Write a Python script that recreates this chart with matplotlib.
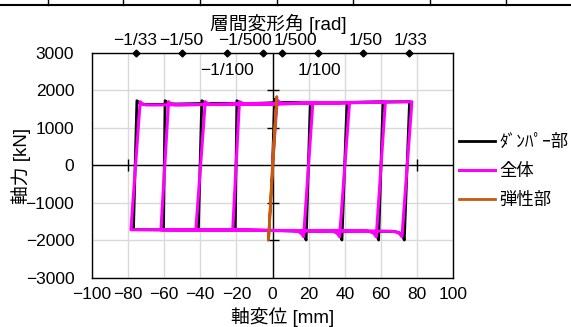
import numpy as np
import matplotlib
matplotlib.use("Agg")
import matplotlib.pyplot as plt
from matplotlib.lines import Line2D

plt.rcParams['font.family'] = ['Liberation Sans', 'Noto Sans CJK JP', 'DejaVu Sans']
plt.rcParams['font.size'] = 12.5

# damper part (black): axial displacement [mm], axial force [kN]
damper_x = [0, 1.2, 2.5, 5, 20.9,
            18.6, 17.6, 15.8, 13, -20.6,
            -19.7, -18.6, -16.5, -13, 41.2,
            38.4, 37.4, 35.6, 33, -41,
            -39.1, -38, -36, -33, 61.1,
            58.7, 57.7, 55.9, 53, -60.3,
            -59.4, -58.3, -56.3, -53, 75.8,
            72.9, 71.9, 70, 67, -76.9,
            -75, -73.9, -72, -69, 0]
damper_f = [0, 1760, 1680, 1655, 1665,
            -1995, -1870, -1790, -1750, -1725,
            1720, 1680, 1650, 1645, 1672,
            -1995, -1870, -1790, -1755, -1722,
            1720, 1680, 1645, 1638, 1682,
            -1995, -1870, -1795, -1760, -1720,
            1720, 1675, 1635, 1628, 1694,
            -1995, -1880, -1800, -1765, -1718,
            1720, 1670, 1625, 1618, 1650]

# whole (magenta)
total_x = [0, 2.6, 3.9, 6.4, 22.3,
           17.2, 16.2, 14.4, 11.6, -22,
           -18.3, -17.2, -15, -11.5, 42.6,
           37.1, 36.1, 34.2, 31.6, -42.4,
           -37.2, -36.2, -34, -31.5, 62.4,
           57.4, 56.3, 54.5, 51.6, -61.7,
           -57.5, -56.5, -54.5, -51.5, 77.1,
           71.6, 70.5, 68.7, 65.6, -78.3,
           -73.2, -72.2, -70.2, -67, 0]
total_f = [0, 1740, 1670, 1650, 1660,
           -1907, -1830, -1770, -1745, -1730,
           1694, 1660, 1630, 1625, 1668,
           -1907, -1830, -1775, -1750, -1728,
           1694, 1655, 1620, 1615, 1680,
           -1907, -1830, -1775, -1755, -1725,
           1694, 1650, 1612, 1608, 1692,
           -1907, -1835, -1780, -1760, -1720,
           1694, 1645, 1608, 1605, 1640]

# elastic part (orange)
elastic_x = [0, 2.4, -2.2, 0]
elastic_f = [0, 1830, -1995, 0]

# story drift angle markers
story_h = 2500.0
drift_vals = [-1/33, -1/50, -1/100, -1/500, 1/500, 1/100, 1/50, 1/33]
drift_text = ['−1/33', '−1/50', '−1/100', '−1/500', '1/500', '1/100', '1/50', '1/33']
drift_row = [0, 0, 1, 0, 0, 1, 0, 0]
drift_dx = [0, -1, 0, 6.3, -5.6, 1, 2, 1]
drift_ha = ['center', 'center', 'center', 'right', 'left', 'center', 'center', 'center']

xticks = np.arange(-100, 101, 20)
yticks = np.arange(-3000, 3001, 1000)

fig = plt.figure(figsize=(5.71, 3.27), dpi=100)
ax = fig.add_axes([91.7/571, 1 - 277.7/327, (453.3 - 91.7)/571, (277.7 - 52.7)/327])

ax.set_xlim(-100, 100)
ax.set_ylim(-3000, 3000)
ax.set_xticks(xticks)
ax.set_yticks(yticks)
ax.grid(True, color='#D9D9D9', lw=1.0, zorder=0)
ax.set_axisbelow(True)
ax.tick_params(length=0, pad=7)
ax.tick_params(axis='y', pad=12.5)
for s in ax.spines.values():
    s.set_linewidth(1.0)
    s.set_color('black')

ax.axhline(0, color='black', lw=1.0, zorder=1)
ax.axvline(0, color='black', lw=1.0, zorder=1)
ax.plot([0, 0, 0, 0], [-2000, -1000, 1000, 2000], ls='none', marker='_',
        ms=8, mew=1.0, color='black', zorder=1)
ax.plot([-80, 80], [0, 0], ls='none', marker='|', ms=8, mew=1.0, color='black', zorder=1)

ax.plot(damper_x, damper_f, color='black', lw=2.0, label='ﾀﾞﾝﾊﾟｰ部', zorder=3)
ax.plot(total_x, total_f, color='#FF00FF', lw=2.2, label='全体', zorder=4)
ax.plot(elastic_x, elastic_f, color='#C55A11', lw=2.0, label='弾性部', zorder=5)

# drift angle markers on the top edge
dx_mm = [r * story_h for r in drift_vals]
ax.plot(dx_mm, [1] * len(dx_mm), ls='none', marker='D', ms=3.5, color='black',
        transform=ax.get_xaxis_transform(), clip_on=False, zorder=6)
for x, t, row, off, ha in zip(dx_mm, drift_text, drift_row, drift_dx, drift_ha):
    dy = 8.5 if row == 0 else -13
    ax.annotate(t, xy=(x, 1), xycoords=ax.get_xaxis_transform(),
                xytext=(off, dy), textcoords='offset points',
                ha=ha, va='center')

fig.text(278.6/571, 1 - 23.5/327, '層間変形角 [rad]', ha='center', va='center', fontsize=13.5)
fig.text(283/571, 1 - 317.5/327, '軸変位 [mm]', ha='center', va='center', fontsize=13.5)
fig.text(21.5/571, 1 - 165.6/327, '軸力 [kN]', ha='center', va='center', rotation=90,
         fontsize=13.5)

ax.legend(loc='center left', bbox_to_anchor=(459/571, 1 - 171/327),
          bbox_transform=fig.transFigure, frameon=False, borderpad=0,
          borderaxespad=0, handlelength=2.1, handletextpad=0.2, labelspacing=0.75)

# bottom edge of the table above the chart
fig.add_artist(Line2D([0, 1], [1 - 5/327] * 2, transform=fig.transFigure, color='black', lw=1.5))
for xp in [48, 123, 200, 277, 353, 430, 506]:
    fig.add_artist(Line2D([xp/571] * 2, [1 - 5/327, 1], transform=fig.transFigure,
                          color='black', lw=1.0))

fig.savefig('out.png', dpi=100)
